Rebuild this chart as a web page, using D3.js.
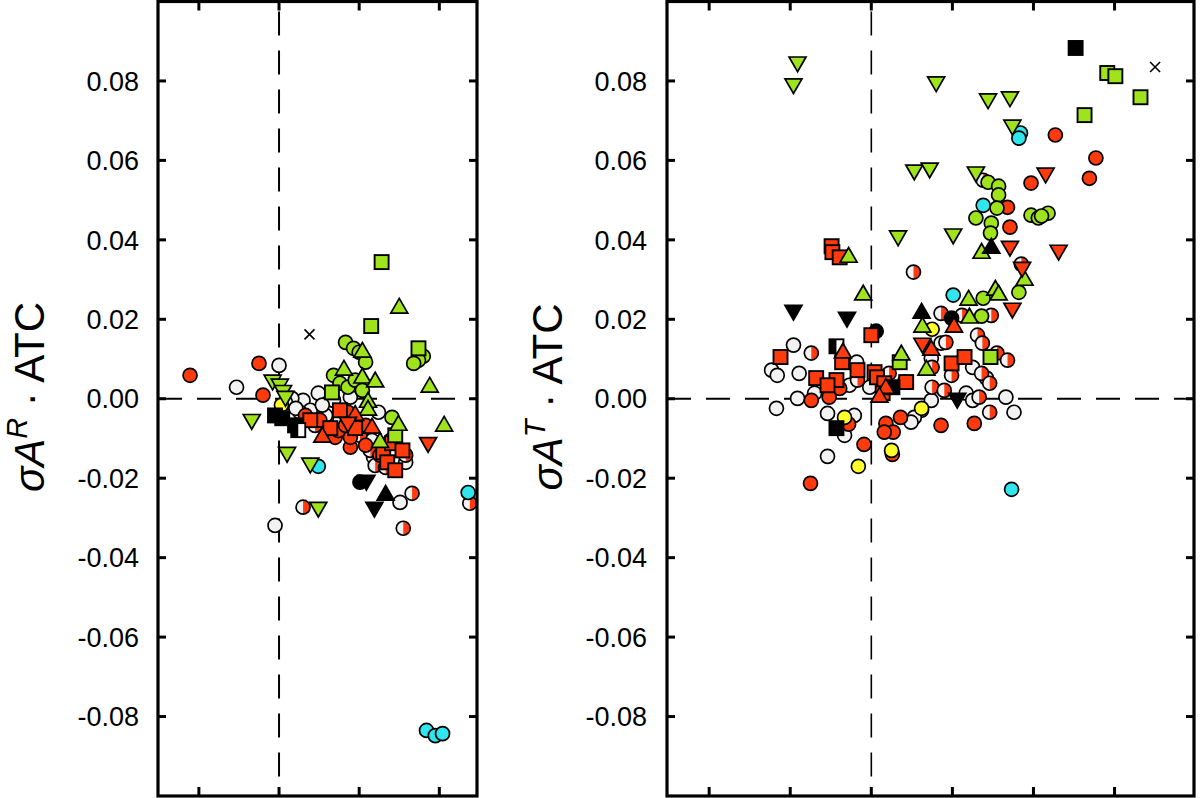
<!DOCTYPE html>
<html><head><meta charset="utf-8">
<script src="https://cdn.jsdelivr.net/npm/d3@7"></script>
<style>body{margin:0;background:#fff}</style>
</head><body><svg id="c" width="1200" height="798"></svg>
<script>
// ---------- tick labels ----------
const yTicks = [0.08, 0.06, 0.04, 0.02, 0, -0.02, -0.04, -0.06, -0.08];
const yTickLabels = ["0.08", "0.06", "0.04", "0.02", "0.00", "-0.02", "-0.04", "-0.06", "-0.08"];
const leftXTicks = [-1, 0, 1, 2];
const rightXTicks = [-2, -1, 0, 1, 2, 3];

// ---------- left panel (σA^R · ATC) ----------
const L_redCircle = [[-1.11,0.0059],[-0.25,0.0089],[-0.20,0.0009],[0.89,-0.0122],[0.89,-0.0097],[0.70,-0.0097],[0.74,-0.0080],[0.51,-0.0054],[0.83,-0.0067],[1.26,-0.0142],[1.08,-0.0117],[0.33,-0.0042],[1.08,-0.0067]];
const L_whiteCircle = [[-0.53,0.0029],[0.00,0.0084],[-0.05,-0.0319],[1.51,-0.0261],[0.49,0.0014],[0.30,-0.0004],[0.16,0.0001],[0.68,-0.0004],[0.89,0.0004],[1.24,-0.0034],[1.16,-0.0105],[1.18,-0.0147],[1.58,-0.0160],[0.39,-0.0029],[0.58,-0.0042],[0.26,-0.0034],[0.08,-0.0009],[0.21,-0.0024],[0.54,-0.0016],[1.39,-0.0105]];
const L_halfCircle = [[0.30,-0.0273],[2.38,-0.0263],[1.66,-0.0238],[1.55,-0.0326],[1.45,-0.0112],[1.20,-0.0168],[1.33,-0.0173],[1.14,-0.0130],[0.76,-0.0054],[0.45,-0.0067],[1.01,-0.0092],[0.86,-0.0034],[1.58,-0.0142]];
const L_greenCircle = [[0.83,0.0142],[0.93,0.0127],[1.00,0.0117],[1.08,0.0092],[1.80,0.0107],[1.74,0.0097],[1.68,0.0089],[0.68,0.0059],[0.76,0.0039],[0.86,0.0029],[0.95,0.0047],[1.04,0.0021],[1.41,-0.0047]];
const L_cyanCircle = [[0.49,-0.0170],[2.36,-0.0236],[1.84,-0.0835],[1.95,-0.0848],[2.04,-0.0843]];
const L_yellowCircle = [[0.03,-0.0016]];
const L_blackCircle = [[1.01,-0.0210]];
const L_redSquare = [[1.30,-0.0135],[1.35,-0.0160],[1.41,-0.0112],[1.45,-0.0180],[0.76,-0.0029],[0.39,-0.0054],[0.64,-0.0074],[0.95,-0.0074],[1.54,-0.0130]];
const L_greenSquare = [[1.15,0.0183],[1.28,0.0344],[1.74,0.0127],[0.66,0.0016],[1.45,-0.0092]];
const L_blackSquare = [[-0.05,-0.0042],[0.04,-0.0049],[0.20,-0.0067]];
const L_halfSquare = [[0.24,-0.0079]];
const L_greenUp = [[1.50,0.0228],[1.04,0.0117],[1.88,0.0029],[2.06,-0.0069],[0.81,0.0072],[1.04,0.0052],[1.20,0.0042],[1.11,-0.0009],[1.11,-0.0029],[1.49,-0.0067],[1.26,-0.0110]];
const L_redUp = [[0.54,-0.0097],[1.16,-0.0074],[0.95,-0.0042]];
const L_blackUp = [[1.33,-0.0243]];
const L_greenDown = [[-0.34,-0.0052],[-0.08,0.0047],[0.01,0.0037],[0.05,0.0021],[0.08,0.0006],[0.10,-0.0135],[0.39,-0.0162],[0.49,-0.0273]];
const L_redDown = [[1.86,-0.0110],[0.86,-0.0059]];
const L_blackDown = [[1.19,-0.0273],[1.09,-0.0205]];
const L_cross = [[0.38,0.0162]];

// ---------- right panel (σA^T · ATC) ----------
const R_redCircle = [[2.27,0.0664],[2.77,0.0606],[2.69,0.0555],[1.97,0.0543],[1.68,0.0482],[1.71,0.0432],[-0.09,-0.0115],[0.26,-0.0140],[0.18,-0.0062],[0.27,-0.0084],[0.16,-0.0084],[0.36,-0.0047],[0.86,-0.0067],[1.27,-0.0062],[-0.75,-0.0213],[-0.74,-0.0004],[-0.28,-0.0064],[-0.39,0.0026],[-0.52,0.0004]];
const R_whiteCircle = [[-0.96,0.0135],[0.86,0.0140],[-1.23,0.0072],[-1.16,0.0059],[-0.89,0.0064],[0.74,0.0102],[1.25,0.0079],[1.42,0.0052],[-0.27,0.0034],[-0.18,0.0092],[-0.02,0.0029],[-0.70,0.0014],[-0.91,0.0001],[-1.17,-0.0024],[1.17,0.0014],[1.25,-0.0004],[1.66,0.0004],[1.76,-0.0034],[0.74,-0.0004],[0.62,-0.0029],[0.53,-0.0047],[0.49,-0.0059],[-0.54,-0.0037],[-0.21,-0.0042],[-0.33,-0.0092],[-0.54,-0.0145]];
const R_halfCircle = [[1.38,0.0550],[0.52,0.0319],[1.85,0.0339],[0.86,0.0215],[1.12,0.0210],[1.48,0.0210],[1.31,0.0160],[1.37,0.0140],[0.92,0.0142],[1.55,0.0115],[1.68,0.0097],[-0.74,0.0115],[0.99,0.0059],[1.36,0.0064],[1.46,0.0039],[-0.17,0.0047],[0.22,0.0064],[0.41,0.0042],[0.75,0.0029],[0.90,0.0021],[1.33,0.0004],[1.46,-0.0034],[0.75,0.0079]];
const R_greenCircle = [[1.44,0.0545],[1.57,0.0535],[1.57,0.0513],[1.29,0.0455],[1.48,0.0442],[1.47,0.0417],[1.97,0.0462],[2.06,0.0455],[2.18,0.0467],[2.10,0.0460],[1.82,0.0268],[1.38,0.0253],[1.36,0.0208],[1.55,0.0480]];
const R_cyanCircle = [[1.84,0.0669],[1.82,0.0656],[1.38,0.0487],[1.01,0.0261],[1.73,-0.0228]];
const R_yellowCircle = [[0.75,0.0175],[0.62,-0.0024],[-0.33,-0.0047],[0.25,-0.0130],[-0.16,-0.0170]];
const R_blackCircle = [[0.06,0.0170],[0.99,0.0203]];
const R_redSquare = [[0.00,0.0160],[-1.12,0.0105],[-0.36,0.0092],[-0.49,0.0384],[-0.48,0.0369],[-0.39,0.0356],[0.99,0.0089],[1.15,0.0105],[-0.68,0.0052],[-0.43,0.0047],[-0.17,0.0072],[0.04,0.0067],[0.07,0.0054],[0.43,0.0042],[0.16,0.0039],[-0.54,0.0034],[0.14,0.0014]];
const R_greenSquare = [[2.91,0.0820],[3.01,0.0812],[3.32,0.0759],[2.63,0.0714],[1.47,0.0105],[0.35,0.0092]];
const R_blackSquare = [[2.52,0.0883],[0.26,0.0029],[-0.43,-0.0074]];
const R_halfSquare = [[-0.43,0.0132]];
const R_greenUp = [[-0.28,0.0356],[1.36,0.0366],[1.89,0.0298],[-0.10,0.0261],[1.20,0.0248],[1.53,0.0273],[1.57,0.0261],[1.21,0.0203],[0.63,0.0180],[0.37,0.0110],[0.68,0.0072]];
const R_redUp = [[1.02,0.0180],[0.74,0.0122],[-0.35,0.0115],[0.18,0.0026],[0.10,0.0004]];
const R_blackUp = [[1.48,0.0379],[0.62,0.0215]];
const R_greenDown = [[-0.91,0.0848],[-0.96,0.0793],[0.80,0.0798],[1.44,0.0755],[1.71,0.0760],[1.74,0.0689],[0.53,0.0576],[0.72,0.0581],[1.29,0.0571],[0.33,0.0410],[1.01,0.0415]];
const R_redDown = [[2.15,0.0568],[1.71,0.0384],[2.31,0.0374],[1.86,0.0331],[1.74,0.0228],[0.63,0.0140]];
const R_blackDown = [[-0.96,0.0223],[-0.30,0.0205],[1.06,0.0001]];
const R_cross = [[3.50,0.0835]];

// ---------- styles ----------
const RED = "#ff3a0c", GREEN = "#9fe31c", CYAN = "#2fe6ee", YELLOW = "#ffff2a", WHITE = "#f2f2f2", BLACK = "#000";

function seriesList(s) {
  return [
    {data: s.whiteCircle, shape: "circle", fill: WHITE},
    {data: s.halfCircle, shape: "halfCircle", fill: RED},
    {data: s.redCircle, shape: "circle", fill: RED},
    {data: s.greenCircle, shape: "circle", fill: GREEN},
    {data: s.cyanCircle, shape: "circle", fill: CYAN},
    {data: s.yellowCircle, shape: "circle", fill: YELLOW},
    {data: s.blackCircle, shape: "circle", fill: BLACK},
    {data: s.redSquare, shape: "square", fill: RED},
    {data: s.greenSquare, shape: "square", fill: GREEN},
    {data: s.blackSquare, shape: "square", fill: BLACK},
    {data: s.halfSquare, shape: "halfSquare", fill: BLACK},
    {data: s.greenUp, shape: "up", fill: GREEN},
    {data: s.redUp, shape: "up", fill: RED},
    {data: s.blackUp, shape: "up", fill: BLACK},
    {data: s.greenDown, shape: "down", fill: GREEN},
    {data: s.redDown, shape: "down", fill: RED},
    {data: s.blackDown, shape: "down", fill: BLACK},
    {data: s.cross, shape: "cross", fill: BLACK}
  ];
}

const panels = [
  {xRange: [158, 477], xDomain: [-1.51, 2.47], xTicks: leftXTicks, labelX: 139, titleX: 44, sup: "R", vDash: 2,
   series: seriesList({redCircle: L_redCircle, whiteCircle: L_whiteCircle, halfCircle: L_halfCircle, greenCircle: L_greenCircle,
     cyanCircle: L_cyanCircle, yellowCircle: L_yellowCircle, blackCircle: L_blackCircle, redSquare: L_redSquare,
     greenSquare: L_greenSquare, blackSquare: L_blackSquare, halfSquare: L_halfSquare, greenUp: L_greenUp, redUp: L_redUp,
     blackUp: L_blackUp, greenDown: L_greenDown, redDown: L_redDown, blackDown: L_blackDown, cross: L_cross})},
  {xRange: [667, 1194], xDomain: [-2.52, 3.98], xTicks: rightXTicks, labelX: 647, titleX: 562, sup: "T", vDash: 1.6,
   series: seriesList({redCircle: R_redCircle, whiteCircle: R_whiteCircle, halfCircle: R_halfCircle, greenCircle: R_greenCircle,
     cyanCircle: R_cyanCircle, yellowCircle: R_yellowCircle, blackCircle: R_blackCircle, redSquare: R_redSquare,
     greenSquare: R_greenSquare, blackSquare: R_blackSquare, halfSquare: R_halfSquare, greenUp: R_greenUp, redUp: R_redUp,
     blackUp: R_blackUp, greenDown: R_greenDown, redDown: R_redDown, blackDown: R_blackDown, cross: R_cross})}
];

const svg = d3.select("#c");
const y = d3.scaleLinear().domain([-0.1, 0.1]).range([796, 1.5]);
const FONT = "'Liberation Sans', Arial, sans-serif";
const R = 7, SQ = 14;
const triUp = d3.symbol().type(d3.symbolTriangle).size(125)();

panels.forEach(p => {
  const x = d3.scaleLinear().domain(p.xDomain).range(p.xRange);
  const g = svg.append("g");
  const [x0, x1] = p.xRange, y0 = y.range()[1], y1 = y.range()[0];

  // dashed zero lines
  g.append("line").attr("x1", x0).attr("x2", x1).attr("y1", y(0)).attr("y2", y(0))
    .attr("stroke", "#000").attr("stroke-width", 2.2).attr("stroke-dasharray", "24,15");
  g.append("line").attr("x1", x(0)).attr("x2", x(0)).attr("y1", y0).attr("y2", y1)
    .attr("stroke", "#000").attr("stroke-width", p.vDash).attr("stroke-dasharray", "24,15").attr("stroke-dashoffset", -10);

  // markers
  p.series.forEach(s => {
    const sel = g.append("g").selectAll("g").data(s.data).join("g")
      .attr("transform", d => `translate(${x(d[0])},${y(d[1])})`);
    if (s.shape === "circle") {
      sel.append("circle").attr("r", R).attr("fill", s.fill).attr("stroke", "#000").attr("stroke-width", 1.7);
    } else if (s.shape === "halfCircle") {
      sel.append("circle").attr("r", R).attr("fill", WHITE);
      sel.append("path").attr("d", `M0,${-R}A${R},${R} 0 0 1 0,${R}Z`).attr("fill", s.fill);
      sel.append("circle").attr("r", R).attr("fill", "none").attr("stroke", "#000").attr("stroke-width", 1.7);
    } else if (s.shape === "square") {
      sel.append("rect").attr("x", -SQ/2).attr("y", -SQ/2).attr("width", SQ).attr("height", SQ)
        .attr("fill", s.fill).attr("stroke", "#000").attr("stroke-width", 1.9);
    } else if (s.shape === "halfSquare") {
      sel.append("rect").attr("x", -SQ/2).attr("y", -SQ/2).attr("width", SQ).attr("height", SQ).attr("fill", "#fff");
      sel.append("rect").attr("x", -SQ/2).attr("y", -SQ/2).attr("width", SQ/2).attr("height", SQ).attr("fill", s.fill);
      sel.append("rect").attr("x", -SQ/2).attr("y", -SQ/2).attr("width", SQ).attr("height", SQ)
        .attr("fill", "none").attr("stroke", "#000").attr("stroke-width", 1.9);
    } else if (s.shape === "up" || s.shape === "down") {
      sel.append("path").attr("d", triUp).attr("transform", s.shape === "down" ? "rotate(180)" : null)
        .attr("fill", s.fill).attr("stroke", "#000").attr("stroke-width", 1.7).attr("stroke-linejoin", "miter");
    } else if (s.shape === "cross") {
      sel.append("path").attr("d", "M-5,-5L5,5M-5,5L5,-5").attr("stroke", "#000").attr("stroke-width", 1.6);
    }
  });

  // frame
  g.append("rect").attr("x", x0).attr("y", y0).attr("width", x1 - x0).attr("height", y1 - y0)
    .attr("fill", "none").attr("stroke", "#000").attr("stroke-width", 3.2);

  // inward ticks
  p.xTicks.forEach(t => {
    g.append("line").attr("x1", x(t)).attr("x2", x(t)).attr("y1", y1).attr("y2", y1 - 9).attr("stroke", "#000").attr("stroke-width", 3);
    g.append("line").attr("x1", x(t)).attr("x2", x(t)).attr("y1", y0).attr("y2", y0 + 9).attr("stroke", "#000").attr("stroke-width", 3);
  });
  yTicks.forEach((t, i) => {
    g.append("line").attr("x1", x0).attr("x2", x0 + 8).attr("y1", y(t)).attr("y2", y(t)).attr("stroke", "#000").attr("stroke-width", 3);
    g.append("line").attr("x1", x1).attr("x2", x1 - 8).attr("y1", y(t)).attr("y2", y(t)).attr("stroke", "#000").attr("stroke-width", 3);
    g.append("text").attr("x", p.labelX).attr("y", y(t)).attr("dy", "0.36em").attr("text-anchor", "end")
      .attr("font-family", FONT).attr("font-size", 27).text(yTickLabels[i]);
  });

  // axis title
  const tt = svg.append("text").attr("transform", `translate(${p.titleX},397) rotate(-90)`)
    .attr("text-anchor", "middle").attr("font-family", FONT).attr("font-size", 42);
  tt.append("tspan").attr("font-style", "italic").text("σA");
  tt.append("tspan").attr("font-style", "italic").attr("font-size", 29).attr("dy", -17).text(p.sup);
  tt.append("tspan").attr("dy", 17).text(" · ATC");
});
</script>
</body></html>
